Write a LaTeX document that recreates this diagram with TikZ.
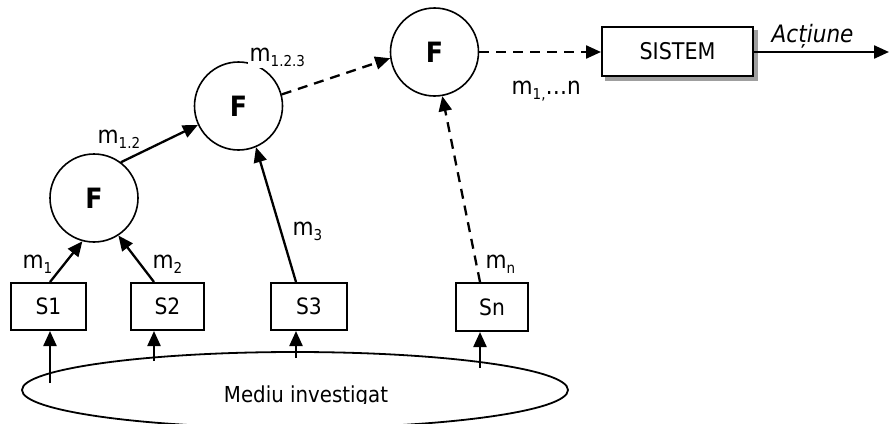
\documentclass[tikz,border=0pt]{standalone}
\usepackage{fontspec}
\setmainfont{DejaVu Sans Condensed}
\usetikzlibrary{arrows.meta,backgrounds}
% lowered small index text
\newcommand\idx[1]{\raisebox{-0.4ex}{\fontsize{15}{16}\selectfont #1}}
\tikzset{
  fuse/.style={circle,draw,line width=1.6pt,minimum size=88pt,inner sep=0pt,
    font=\fontsize{28}{30}\selectfont\bfseries,fill=white},
  sensor/.style={draw,line width=2pt,minimum height=47pt,inner sep=0pt,
    font=\fontsize{22.5}{24}\selectfont,fill=white},
  flow/.style={line width=2.3pt,-{Triangle[length=15pt,width=13pt]}},
  dflow/.style={flow,dash pattern=on 10pt off 7pt},
  lbl/.style={font=\fontsize{24}{26}\selectfont,fill=white,inner sep=1.5pt,anchor=base west}
}
\begin{document}
\begin{tikzpicture}[x=1pt,y=-1pt]
\useasboundingbox (0,0) rectangle (890,423);
\clip (0,0) rectangle (890,423);

% investigated environment
\draw[line width=1.8pt] (295,390) ellipse [x radius=273,y radius=38];
\begin{scope}
  \clip (200,370) rectangle (420,403.5);
  \node[font=\fontsize{22}{24}\selectfont,anchor=base] (env) at (306,402) {Mediu investigat};
\end{scope}

% sensors
\node[sensor,minimum width=75pt] (s1) at (48.5,306.5) {S1};
\node[sensor,minimum width=73pt] (s2) at (167.5,306.5) {S2};
\node[sensor,minimum width=76pt] (s3) at (309,306.5) {S3};
\node[sensor,minimum width=72pt,minimum height=48pt] (sn) at (492,307) {Sn};

% fusion nodes
\node[fuse] (f1) at (94,198) {F};
\node[fuse] (f2) at (238.5,106) {F};
\node[fuse] (f3) at (434.5,52) {F};

% controlled system with its shadow
\node[sensor,minimum width=151pt,minimum height=49pt,font=\fontsize{23}{25}\selectfont] (sys) at (677.5,51.5) {SISTEM};
\begin{scope}[on background layer]
  \fill[gray!75] ([xshift=4pt,yshift=-4pt]sys.south west) rectangle ([xshift=4pt,yshift=-4pt]sys.north east);
\end{scope}

% measurement inputs from the environment
\coordinate (e1) at (50,383);
\coordinate (e2) at (154,361);
\coordinate (e3) at (296,358);
\coordinate (e4) at (480,368);
\coordinate (out) at (889,52);
\draw[flow] (e1) -- (e1 |- s1.south);
\draw[flow] (e2) -- (e2 |- s2.south);
\draw[flow] (e3) -- (e3 |- s3.south);
\draw[flow] (e4) -- (e4 |- sn.south);

% sensor outputs into the fusion tree
\draw[flow] (e1 |- s1.north) -- (f1.-105);
\draw[flow] (e2 |- s2.north) -- (f1.-57);
\draw[flow] (e3 |- s3.north) -- (f2.-67);
\draw[dflow] (e4 |- sn.north) -- (f3.-80);
\draw[flow] (f1.53) -- (f2.-155);
\draw[dflow] (f2.15) -- (f3.-172);
\draw[dflow] (f3.east) -- (f3.east -| sys.west);
\draw[flow] (sys.east |- out) -- (out);

% labels
\node[lbl] (lm1) at (21,268) {m\idx{1}};
\node[lbl] (lm2) at (151,268) {m\idx{2}};
\node[lbl] (lm3) at (291,235) {m\idx{3}};
\node[lbl] (lmn) at (484,268) {m\idx{n}};
\node[lbl] (lm12) at (96,143) {m\idx{1.2}};
\node[lbl] (lm123) at (248,61) {m\idx{1.2.3}};
\node[lbl] (lm1n) at (510,94) {m\idx{1,}…n};
\node[lbl,font=\fontsize{24}{26}\selectfont\itshape] (act) at (770,42) {Acțiune};
\end{tikzpicture}
\end{document}
